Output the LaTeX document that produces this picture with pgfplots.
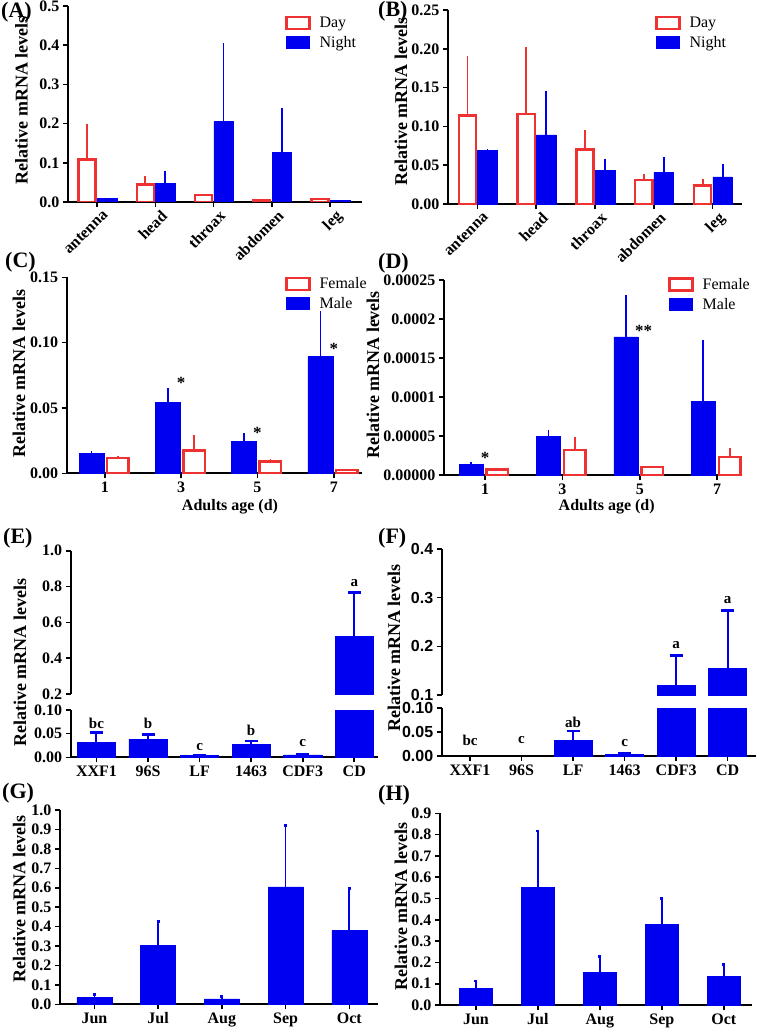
\documentclass[border=0pt]{standalone}
\usepackage{fontspec}
\setmainfont{Liberation Serif}
\setsansfont{Liberation Sans}
\usepackage{pgfplots}
\pgfplotsset{compat=1.18}
\definecolor{myred}{RGB}{238,50,50}
\definecolor{myblue}{RGB}{0,0,240}
\newcommand{\fs}[1]{\fontsize{#1}{#1}\selectfont}
\pgfplotsset{
  prism/.style={
    scale only axis,
    axis x line*=bottom, axis y line*=left,
    axis line style={line width=1.8pt, black},
    every tick/.style={line width=1.6pt, black},
    major tick length=5pt,
    tick align=outside,
    ticklabel style={font=\fs{16}\bfseries},
    ylabel style={font=\fs{18}\bfseries},
    xlabel style={font=\fs{16}\bfseries},
    scaled y ticks=false,
    clip mode=individual,
    ymin=0,
    ybar,
    legend image code/.code={\draw[##1] (0pt,-6pt) rectangle (23pt,6pt);},
    legend style={draw=none, fill=none, inner sep=0pt, font=\fs{16}, row sep=3pt, legend cell align=left,
      /tikz/every odd column/.append style={column sep=7pt}},
    error bars/y dir=plus, error bars/y explicit,
  },
  dayb/.style={fill=white, draw=myred, line width=2.4pt,
    error bars/error mark=none, error bars/error bar style={line width=1.8pt, myred}},
  nightb/.style={fill=myblue, draw=myblue, line width=0.5pt,
    error bars/error mark=none, error bars/error bar style={line width=1.8pt, myblue}},
  capb/.style={fill=myblue, draw=myblue, line width=0.5pt,
    error bars/error mark=|, error bars/error mark options={line width=2.5pt, mark size=6.5pt, myblue},
    error bars/error bar style={line width=2pt, myblue}},
  smallcap/.style={fill=myblue, draw=myblue, line width=0.5pt,
    error bars/error mark=|, error bars/error mark options={line width=2.5pt, mark size=1.5pt, myblue},
    error bars/error bar style={line width=1.8pt, myblue}},
  rotlab/.style={xticklabel style={rotate=45, anchor=north east, inner sep=1pt, font=\fs{16}\bfseries, yshift=-4pt, xshift=3pt}},
}
\begin{document}
\begin{tikzpicture}
\useasboundingbox (0,0) rectangle (760pt,-1032pt);
\fill[white] (0,0) rectangle (760pt,-1032pt);

% ---------------- (A)
\begin{axis}[prism, rotlab, at={(68pt,-202pt)}, anchor=south west, width=294pt, height=196pt,
  xmin=-0.5, xmax=4.55, ymax=0.5,
  ytick={0,0.1,0.2,0.3,0.4,0.5}, yticklabels={0.0,0.1,0.2,0.3,0.4,0.5},
  xtick={0,1,2,3,4}, xticklabels={antenna,head,throax,abdomen,leg},
  ylabel={Relative mRNA levels}, ylabel style={at={(axis description cs:-0.158,0.52)}, anchor=center},
  legend style={at={(axis description cs:0.738,0.955)}, anchor=north west}]
\addplot[dayb, bar width=0.29, bar shift=-0.172] coordinates {
 (0,0.108) +- (0,0.092) (1,0.045) +- (0,0.021) (2,0.018) +- (0,0.001) (3,0.005) +- (0,0.0) (4,0.008) +- (0,0.0)};
\addlegendentry{Day}
\addplot[nightb, bar width=0.335, bar shift=0.172] coordinates {
 (0,0.010) +- (0,0.0) (1,0.048) +- (0,0.032) (2,0.205) +- (0,0.200) (3,0.127) +- (0,0.112) (4,0.005) +- (0,0.0)};
\addlegendentry{Night}
\end{axis}

% ---------------- (B)
\begin{axis}[prism, rotlab, at={(448pt,-204pt)}, anchor=south west, width=294pt, height=194pt,
  xmin=-0.5, xmax=4.5, ymax=0.25,
  ytick={0,0.05,0.10,0.15,0.20,0.25}, yticklabels={0.00,0.05,0.10,0.15,0.20,0.25},
  xtick={0,1,2,3,4}, xticklabels={antenna,head,throax,abdomen,leg},
  ylabel={Relative mRNA levels}, ylabel style={at={(axis description cs:-0.16,0.528)}, anchor=center},
  legend style={at={(axis description cs:0.704,0.975)}, anchor=north west}]
\addplot[dayb, bar width=0.29, bar shift=-0.17] coordinates {
 (0,0.114) +- (0,0.077) (1,0.116) +- (0,0.086) (2,0.070) +- (0,0.025) (3,0.031) +- (0,0.008) (4,0.024) +- (0,0.008)};
\addlegendentry{Day}
\addplot[nightb, bar width=0.335, bar shift=0.17] coordinates {
 (0,0.069) +- (0,0.002) (1,0.089) +- (0,0.057) (2,0.043) +- (0,0.015) (3,0.041) +- (0,0.019) (4,0.035) +- (0,0.016)};
\addlegendentry{Night}
\end{axis}

% ---------------- (C)
\begin{axis}[prism, at={(66.7pt,-473.3pt)}, anchor=south west, width=295.3pt, height=196pt,
  xmin=-0.5, xmax=3.37, ymax=0.15,
  ytick={0,0.05,0.10,0.15}, yticklabels={0.00,0.05,0.10,0.15},
  xtick={0,1,2,3}, xticklabels={1,3,5,7},
  xlabel={Adults age (d)}, xlabel style={at={(axis description cs:0.553,-0.173)}, anchor=center},
  ylabel={Relative mRNA levels}, ylabel style={at={(axis description cs:-0.162,0.507)}, anchor=center},
  legend style={at={(axis description cs:0.739,1.01)}, anchor=north west}]
\addplot[dayb, bar width=0.283, bar shift=0.17] coordinates {
 (0,0.0115) +- (0,0.0015) (1,0.0173) +- (0,0.012) (2,0.0089) +- (0,0.0018) (3,0.0025) +- (0,0.0004)};
\addlegendentry{Female}
\addplot[nightb, bar width=0.327, bar shift=-0.175] coordinates {
 (0,0.0153) +- (0,0.002) (1,0.054) +- (0,0.011) (2,0.0242) +- (0,0.0064) (3,0.0892) +- (0,0.035)};
\addlegendentry{Male}
\node[font=\fs{17}\bfseries] at (axis cs:1,0.069) {*};
\node[font=\fs{17}\bfseries] at (axis cs:2,0.031) {*};
\node[font=\fs{17}\bfseries] at (axis cs:3,0.095) {*};
\end{axis}

% ---------------- (D)
\begin{axis}[prism, at={(444pt,-475pt)}, anchor=south west, width=298pt, height=195pt,
  xmin=-0.53, xmax=3.32, ymax=0.00025,
  ytick={0,0.00005,0.0001,0.00015,0.0002,0.00025},
  yticklabels={0.00000,0.00005,0.0001,0.00015,0.0002,0.00025},
  xtick={0,1,2,3}, xticklabels={1,3,5,7},
  xlabel={Adults age (d)}, xlabel style={at={(axis description cs:0.546,-0.164)}, anchor=center},
  ylabel={Relative mRNA levels}, ylabel style={at={(axis description cs:-0.238,0.513)}, anchor=center},
  legend style={at={(axis description cs:0.752,1.02)}, anchor=north west}]
\addplot[dayb, bar width=0.28, bar shift=0.16] coordinates {
 (0,0.7e-5) +- (0,0.05e-5) (1,3.2e-5) +- (0,1.7e-5) (2,1.0e-5) +- (0,0.1e-5) (3,2.3e-5) +- (0,1.2e-5)};
\addlegendentry{Female}
\addplot[nightb, bar width=0.31, bar shift=-0.18] coordinates {
 (0,1.4e-5) +- (0,0.3e-5) (1,5.0e-5) +- (0,0.8e-5) (2,17.7e-5) +- (0,5.4e-5) (3,9.4e-5) +- (0,7.9e-5)};
\addlegendentry{Male}
\node[font=\fs{17}\bfseries] at (axis cs:0,2.2e-5) {*};
\node[font=\fs{17}\bfseries] at (axis cs:2.05,18.5e-5) {**};
\end{axis}

% ---------------- (E) lower
\begin{axis}[prism, at={(70.7pt,-757.3pt)}, anchor=south west, width=307.3pt, height=47.3pt,
  xmin=-0.5, xmax=5.46, ymax=0.10,
  ytick={0,0.05,0.10}, yticklabels={0.00,0.05,0.10},
  xtick={0,1,2,3,4,5}, xticklabels={XXF1,96S,LF,1463,CDF3,CD},
  ylabel={Relative mRNA levels}, ylabel style={at={(axis description cs:-0.165,2.0)}, anchor=center}]
\addplot[capb, bar width=0.74, bar shift=0] coordinates {
 (0,0.032) +- (0,0.020) (1,0.0386) +- (0,0.0094) (2,0.004) +- (0,0.0008) (3,0.028) +- (0,0.007) (4,0.005) +- (0,0.002) (5,0.52) +- (0,0.248)};
\node[font=\fs{15}\bfseries] at (axis cs:0,0.072) {bc};
\node[font=\fs{15}\bfseries] at (axis cs:1,0.072) {b};
\node[font=\fs{15}\bfseries] at (axis cs:2,0.022) {c};
\node[font=\fs{15}\bfseries] at (axis cs:3,0.056) {b};
\node[font=\fs{15}\bfseries] at (axis cs:4,0.030) {c};
\end{axis}
% ---------------- (E) upper
\begin{axis}[prism, hide x axis, at={(70.7pt,-694pt)}, anchor=south west, width=307.3pt, height=143.3pt,
  xmin=-0.5, xmax=5.46, ymin=0.2, ymax=1.0,
  ytick={0.2,0.4,0.6,0.8,1.0}, yticklabels={0.2,0.4,0.6,0.8,1.0}]
\addplot[capb, bar width=0.74, bar shift=0] coordinates {
 (5,0.52) +- (0,0.248)};
\node[font=\fs{15}\bfseries] at (axis cs:5,0.822) {a};
\end{axis}

% ---------------- (F) lower
\begin{axis}[prism, at={(441.7pt,-756pt)}, anchor=south west, width=314.3pt, height=48pt,
  xmin=-0.55, xmax=5.55, ymax=0.10,
  ytick={0,0.05,0.10}, yticklabels={0.00,0.05,0.10},
  yticklabel style={font=\fs{16}\sffamily\bfseries},
  xtick={0,1,2,3,4,5}, xticklabels={XXF1,96S,LF,1463,CDF3,CD},
  ylabel={Relative mRNA levels}, ylabel style={at={(axis description cs:-0.152,2.25)}, anchor=center}]
\addplot[capb, bar width=0.74, bar shift=0] coordinates {
 (2,0.032) +- (0,0.020) (3,0.003) +- (0,0.002) (4,0.120) +- (0,0.061) (5,0.155) +- (0,0.119)};
\node[font=\fs{15}\bfseries] at (axis cs:0,0.033) {bc};
\node[font=\fs{15}\bfseries] at (axis cs:1,0.033) {c};
\node[font=\fs{15}\bfseries] at (axis cs:2,0.071) {ab};
\node[font=\fs{15}\bfseries] at (axis cs:3,0.026) {c};
\end{axis}
% ---------------- (F) upper
\begin{axis}[prism, hide x axis, at={(441.7pt,-695pt)}, anchor=south west, width=314.3pt, height=146pt,
  xmin=-0.55, xmax=5.55, ymin=0.1, ymax=0.4,
  ytick={0.1,0.2,0.3,0.4}, yticklabels={0.1,0.2,0.3,0.4},
  yticklabel style={font=\fs{16}\sffamily\bfseries}]
\addplot[capb, bar width=0.74, bar shift=0] coordinates {
 (4,0.120) +- (0,0.061) (5,0.155) +- (0,0.119)};
\node[font=\fs{15}\bfseries] at (axis cs:4,0.2017) {a};
\node[font=\fs{15}\bfseries] at (axis cs:5,0.296) {a};
\end{axis}

% ---------------- (G)
\begin{axis}[prism, at={(60pt,-1004.3pt)}, anchor=south west, width=318pt, height=194.3pt,
  xmin=-0.54, xmax=4.45, ymax=1.0,
  ytick={0,0.1,0.2,0.3,0.4,0.5,0.6,0.7,0.8,0.9,1.0},
  yticklabels={0.0,0.1,0.2,0.3,0.4,0.5,0.6,0.7,0.8,0.9,1.0},
  xtick={0,1,2,3,4}, xticklabels={Jun,Jul,Aug,Sep,Oct},
  ylabel={Relative mRNA levels}, ylabel style={at={(axis description cs:-0.128,0.542)}, anchor=center}]
\addplot[smallcap, bar width=0.55, bar shift=0] coordinates {
 (0,0.035) +- (0,0.015) (1,0.305) +- (0,0.12) (2,0.028) +- (0,0.012) (3,0.605) +- (0,0.314) (4,0.379) +- (0,0.218)};
\end{axis}

% ---------------- (H)
\begin{axis}[prism, at={(440pt,-1005pt)}, anchor=south west, width=311.7pt, height=191.7pt,
  xmin=-0.58, xmax=4.45, ymax=0.9,
  ytick={0,0.1,0.2,0.3,0.4,0.5,0.6,0.7,0.8,0.9},
  yticklabels={0.0,0.1,0.2,0.3,0.4,0.5,0.6,0.7,0.8,0.9},
  xtick={0,1,2,3,4}, xticklabels={Jun,Jul,Aug,Sep,Oct},
  ylabel={Relative mRNA levels}, ylabel style={at={(axis description cs:-0.125,0.513)}, anchor=center}]
\addplot[smallcap, bar width=0.54, bar shift=0] coordinates {
 (0,0.078) +- (0,0.035) (1,0.553) +- (0,0.264) (2,0.153) +- (0,0.074) (3,0.379) +- (0,0.121) (4,0.133) +- (0,0.058)};
\end{axis}

% panel labels
\node[font=\fs{22}\bfseries, anchor=west, inner sep=0pt] at (1pt,-12pt) {(A)};
\node[font=\fs{22}\bfseries, anchor=west, inner sep=0pt] at (378pt,-11pt) {(B)};
\node[font=\fs{22}\bfseries, anchor=west, inner sep=0pt] at (5pt,-262pt) {(C)};
\node[font=\fs{22}\bfseries, anchor=west, inner sep=0pt] at (378pt,-263pt) {(D)};
\node[font=\fs{22}\bfseries, anchor=west, inner sep=0pt] at (3pt,-538pt) {(E)};
\node[font=\fs{22}\bfseries, anchor=west, inner sep=0pt] at (378pt,-538pt) {(F)};
\node[font=\fs{22}\bfseries, anchor=west, inner sep=0pt] at (2pt,-793pt) {(G)};
\node[font=\fs{22}\bfseries, anchor=west, inner sep=0pt] at (378pt,-795pt) {(H)};
\end{tikzpicture}
\end{document}
